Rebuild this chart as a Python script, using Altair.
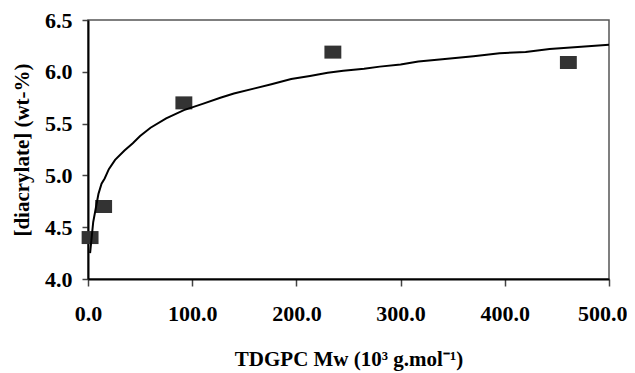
import altair as alt
import pandas as pd

# measured points
pt_x = [2, 15, 92, 235, 461]
pt_y = [4.40, 4.70, 5.70, 6.19, 6.09]

# fitted curve
curve_x = [2, 5, 10, 13, 16, 20, 26, 35, 43, 50, 60, 75, 92, 110, 127, 140, 160,
           176, 195, 213, 230, 245, 265, 280, 300, 317, 340, 370, 395, 420, 443, 470, 500]
curve_y = [4.25, 4.55, 4.82, 4.92, 4.97, 5.06, 5.15, 5.24, 5.31, 5.38, 5.46, 5.55,
           5.63, 5.69, 5.75, 5.79, 5.84, 5.88, 5.93, 5.96, 5.99, 6.01, 6.03, 6.05,
           6.07, 6.10, 6.12, 6.15, 6.18, 6.19, 6.22, 6.24, 6.26]

x_ticks = [0, 100, 200, 300, 400, 500]
y_ticks = [4.0, 4.5, 5.0, 5.5, 6.0, 6.5]

pts = pd.DataFrame({"x": pt_x, "y": pt_y})
cur = pd.DataFrame({"x": curve_x, "y": curve_y})

FONT = "'Liberation Serif', 'Times New Roman', serif"

xscale = alt.Scale(domain=[0, 500], nice=False, zero=False)
yscale = alt.Scale(domain=[4.0, 6.5], nice=False, zero=False)

xaxis = alt.Axis(values=x_ticks, format=".1f", title="TDGPC Mw (10³ g.mol⁻¹)",
                 grid=False, domainColor="black", domainWidth=2, tickColor="#444",
                 tickSize=7, tickWidth=1.5, labelPadding=17, labelFontSize=22,
                 labelFlush=False, labelOverlap=False,
                 labelAlign={"condition": {"test": "datum.value >= 500", "value": "right"},
                             "value": "center"},
                 labelOffset={"condition": {"test": "datum.value >= 500", "value": 18},
                              "value": 0},
                 labelFont=FONT, labelFontWeight="bold", labelColor="black",
                 titleFont=FONT, titleFontSize=21, titleFontWeight="bold",
                 titleColor="black", titlePadding=24)
yaxis = alt.Axis(values=y_ticks, format=".1f", title="[diacrylate] (wt-%)",
                 grid=False, domainColor="black", domainWidth=2, tickColor="#444",
                 tickSize=6, tickWidth=1.5, labelPadding=10, labelFontSize=22,
                 labelFlush=False, labelOverlap=False,
                 labelFont=FONT, labelFontWeight="bold", labelColor="black",
                 titleFont=FONT, titleFontSize=21, titleFontWeight="bold",
                 titleColor="black", titlePadding=12)

line = alt.Chart(cur).mark_line(color="black", strokeWidth=2).encode(
    x=alt.X("x:Q", scale=xscale, axis=xaxis),
    y=alt.Y("y:Q", scale=yscale, axis=yaxis),
)

points = alt.Chart(pts).mark_point(
    shape="M-1.3,-1H1.3V1H-1.3Z", filled=True, color="#333333", opacity=1, size=169
).encode(x=alt.X("x:Q", scale=xscale, axis=xaxis),
         y=alt.Y("y:Q", scale=yscale, axis=yaxis))

chart = (points + line).properties(
    width=521, height=259, autosize="none", background="white",
    padding={"left": 80, "top": 12, "right": 18, "bottom": 94},
).configure_view(stroke="#555", strokeWidth=1.5)

chart.save("out.html", embed_options={"renderer": "svg", "actions": False})
